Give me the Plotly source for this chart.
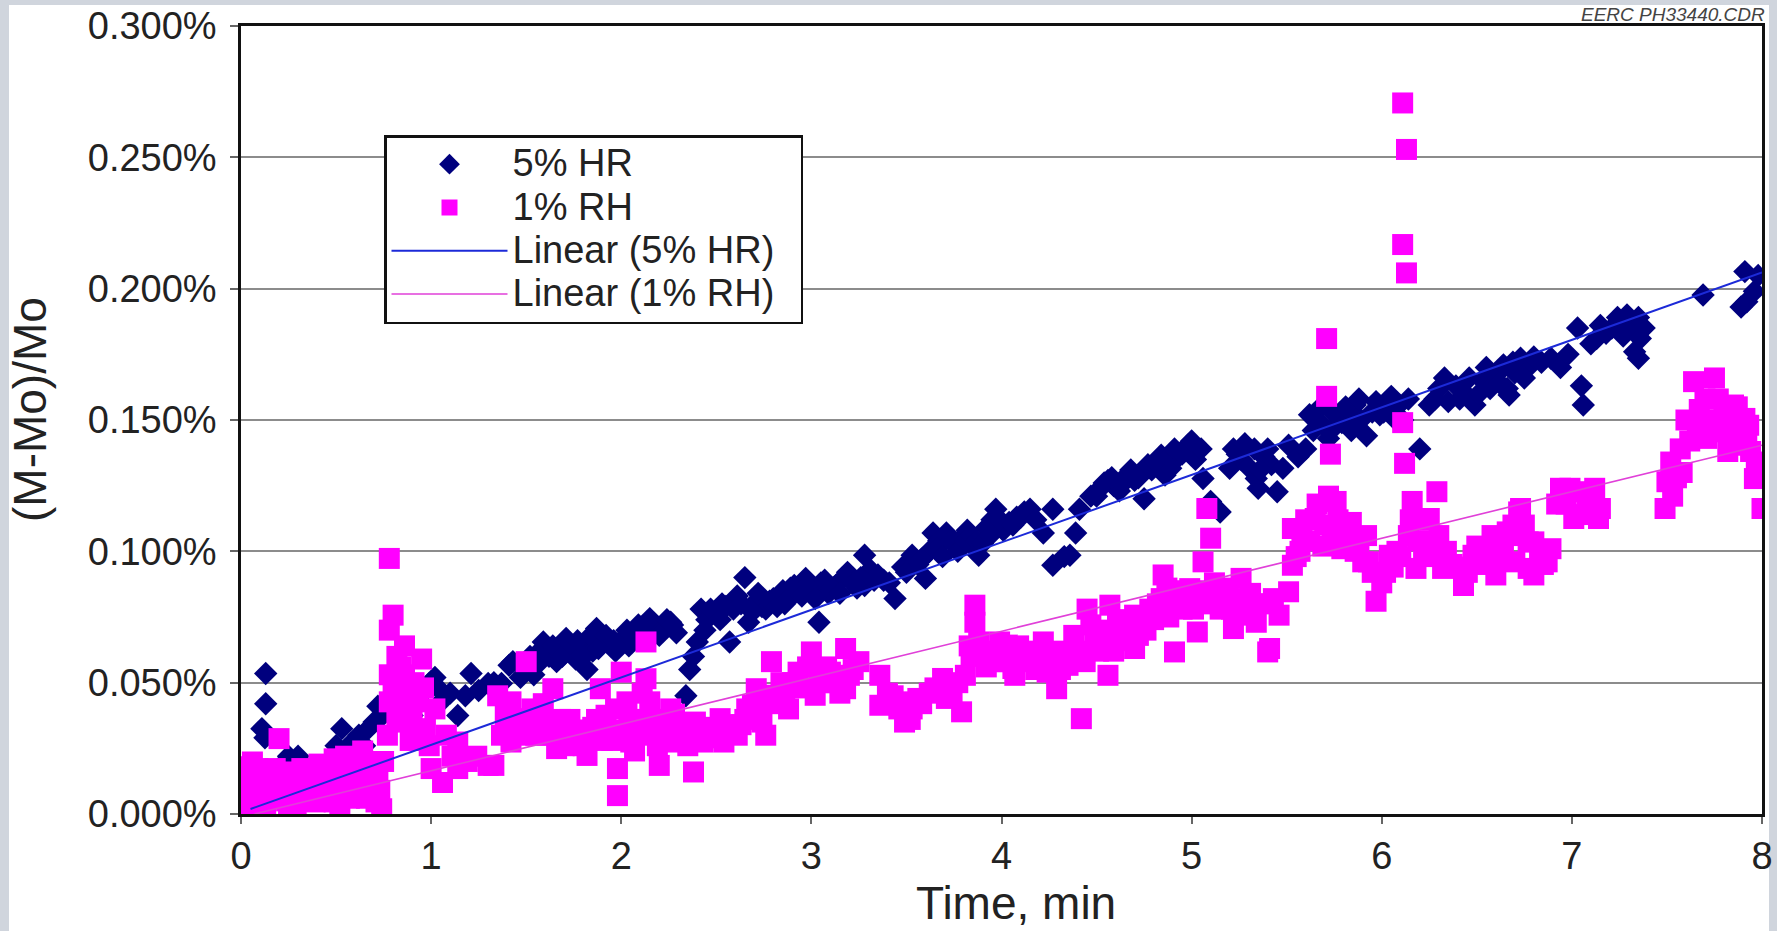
import plotly.graph_objects as go

# ---------------- data ----------------
# 5% HR  (diamonds) – main reading
hr_t = [0.00, 0.02, 0.04, 0.07, 0.09, 0.11, 0.126, 0.13, 0.13, 0.15, 0.18, 0.22, 0.25, 0.30, 0.34, 0.38,
        0.42, 0.46, 0.50, 0.53, 0.56, 0.58, 0.62, 0.65, 0.67, 0.70, 0.72, 0.75, 0.78, 0.82, 0.86, 0.90,
        0.94, 0.99, 1.02, 1.04, 1.07, 1.10, 1.14, 1.18, 1.21, 1.25, 1.30, 1.33, 1.37, 1.41, 1.43, 1.47,
        1.50, 1.54, 1.57, 1.59, 1.62, 1.66, 1.68, 1.71, 1.74, 1.76, 1.79, 1.82, 1.82, 1.85, 1.87, 1.90,
        1.94, 1.97, 2.01, 2.04, 2.07, 2.10, 2.15, 2.18, 2.22, 2.26, 2.29, 2.34, 2.36, 2.38, 2.40, 2.42,
        2.45, 2.50, 2.53, 2.57, 2.59, 2.61, 2.65, 2.67, 2.71, 2.74, 2.76, 2.80, 2.83, 2.86, 2.89, 2.92,
        2.97, 3.00, 3.04, 3.05, 3.09, 3.13, 3.17, 3.20, 3.24, 3.28, 3.28, 3.31, 3.35, 3.38, 3.41, 3.44,
        3.48, 3.53, 3.56, 3.60, 3.62, 3.64, 3.67, 3.71, 3.75, 3.79, 3.82, 3.85, 3.88, 3.92, 3.95, 3.97,
        4.01, 4.04, 4.08, 4.12, 4.15, 4.22, 4.27, 4.27, 4.33, 4.36, 4.39, 4.41, 4.47, 4.52, 4.56, 4.59,
        4.62, 4.66, 4.70, 4.75, 4.79, 4.84, 4.86, 4.89, 4.93, 4.98, 5.02, 5.05, 5.06, 5.10, 5.15, 5.20,
        5.22, 5.26, 5.30, 5.33, 5.34, 5.35, 5.38, 5.42, 5.45, 5.48, 5.51, 5.56, 5.60, 5.62, 5.66, 5.69,
        5.72, 5.76, 5.79, 5.83, 5.86, 5.89, 5.92, 5.95, 5.99, 6.03, 6.06, 6.09, 6.14, 6.20, 6.25, 6.30,
        6.35, 6.39, 6.44, 6.49, 6.53, 6.57, 6.60, 6.64, 6.66, 6.67, 6.70, 6.73, 6.77, 6.84, 6.89, 6.94,
        6.98, 7.03, 7.05, 7.06, 7.10, 7.13, 7.18, 7.24, 7.27, 7.31, 7.35, 7.36, 7.35, 7.69, 7.89, 7.91,
        7.92, 7.96, 7.98]
hr_v = [0.003, 0.006, 0.001, 0.000, 0.004, 0.0325, 0.029, 0.042, 0.0535, 0.012, 0.016, 0.019, 0.022, 0.022, 0.018, 0.017,
        0.014, 0.020, 0.026, 0.0325, 0.024, 0.027, 0.030, 0.026, 0.0325, 0.035, 0.041, 0.038, 0.044, 0.042, 0.040, 0.0375,
        0.045, 0.0497, 0.052, 0.0477, 0.044, 0.046, 0.0375, 0.045, 0.0535, 0.047, 0.0497, 0.050, 0.0497, 0.0566, 0.058, 0.052,
        0.055, 0.053, 0.062, 0.0655, 0.060, 0.058, 0.063, 0.0668, 0.062, 0.059, 0.064, 0.0655, 0.055, 0.062, 0.0706, 0.066,
        0.0655, 0.062, 0.0668, 0.064, 0.070, 0.068, 0.0744, 0.072, 0.0706, 0.073, 0.069, 0.045, 0.055, 0.060, 0.0655, 0.078,
        0.074, 0.077, 0.080, 0.0655, 0.078, 0.083, 0.090, 0.073, 0.081, 0.079, 0.078, 0.082, 0.083, 0.080, 0.086, 0.0846,
        0.0897, 0.085, 0.073, 0.088, 0.084, 0.087, 0.090, 0.0897, 0.086, 0.0985, 0.087, 0.093, 0.091, 0.089, 0.088, 0.082,
        0.094, 0.0985, 0.095, 0.0897, 0.100, 0.107, 0.104, 0.107, 0.103, 0.105, 0.108, 0.102, 0.0985, 0.109, 0.112, 0.116,
        0.108, 0.111, 0.113, 0.115, 0.116, 0.107, 0.116, 0.0947, 0.098, 0.0985, 0.107, 0.116, 0.121, 0.124, 0.127, 0.125,
        0.123, 0.129, 0.127, 0.120, 0.131, 0.1366, 0.129, 0.1316, 0.136, 0.1404, 0.135, 0.139, 0.1277, 0.119, 0.115, 0.1316,
        0.139, 0.135, 0.132, 0.139, 0.1277, 0.124, 0.136, 0.133, 0.1227, 0.1316, 0.1404, 0.136, 0.139, 0.152, 0.150, 0.148,
        0.143, 0.148, 0.149, 0.152, 0.1557, 0.150, 0.144, 0.153, 0.152, 0.157, 0.151, 0.1557, 0.158, 0.139, 0.1557, 0.162,
        0.157, 0.163, 0.160, 0.1557, 0.165, 0.162, 0.167, 0.171, 0.162, 0.1595, 0.168, 0.1735, 0.170, 0.172, 0.1735, 0.170,
        0.175, 0.185, 0.163, 0.1557, 0.179, 0.181, 0.183, 0.189, 0.182, 0.186, 0.189, 0.181, 0.1735, 0.1976, 0.193, 0.2065,
        0.195, 0.199, 0.205]

# 5% HR – further points read inside the dense bands
hr_band_t = [0.05, 0.10, 1.52, 1.56, 1.60, 1.64, 1.69, 1.73, 1.77, 1.80, 1.84, 1.88, 1.92, 1.96, 1.99, 2.03,
             2.06, 2.09, 2.12, 2.20, 2.24, 2.27, 2.44, 2.47, 2.52, 2.55, 2.63, 2.69, 2.72, 2.78, 2.82, 2.85,
             2.88, 2.91, 2.95, 2.99, 3.02, 3.07, 3.11, 3.15, 3.19, 3.22, 3.26, 3.33, 3.50, 3.58, 3.66, 3.69,
             3.73, 3.77, 3.81, 3.84, 3.87, 3.90, 3.94, 3.99, 4.06, 4.10, 4.18, 4.50, 4.54, 4.58, 4.64, 4.68,
             4.72, 4.77, 4.81, 4.88, 4.91, 4.95, 5.00, 5.24, 5.28, 5.36, 5.40, 5.64, 5.68, 5.74, 5.81, 5.84,
             5.88, 5.97, 6.01, 6.05, 6.11, 6.28, 6.33, 6.41, 6.46, 6.51, 6.55, 6.62, 6.69, 6.75, 6.80, 7.15,
             7.21, 7.29, 7.33, 7.38]
hr_band_v = [0.008, 0.012, 0.060, 0.057, 0.062, 0.064, 0.060, 0.065, 0.066, 0.060, 0.068, 0.063, 0.068, 0.066, 0.064, 0.070,
             0.066, 0.072, 0.070, 0.068, 0.074, 0.072, 0.070, 0.078, 0.074, 0.079, 0.080, 0.077, 0.084, 0.081, 0.079, 0.085,
             0.082, 0.087, 0.083, 0.088, 0.082, 0.089, 0.086, 0.084, 0.092, 0.088, 0.090, 0.089, 0.092, 0.097, 0.101, 0.098,
             0.104, 0.100, 0.104, 0.106, 0.104, 0.103, 0.106, 0.112, 0.110, 0.113, 0.112, 0.121, 0.126, 0.128, 0.126, 0.131,
             0.128, 0.133, 0.134, 0.136, 0.139, 0.137, 0.142, 0.137, 0.141, 0.131, 0.139, 0.146, 0.155, 0.153, 0.155, 0.146,
             0.158, 0.157, 0.153, 0.159, 0.150, 0.158, 0.166, 0.158, 0.166, 0.160, 0.170, 0.164, 0.172, 0.166, 0.174, 0.186,
             0.185, 0.190, 0.176, 0.185]

# 1% RH  (squares) – main reading
rh_t = [0.00, 0.00, 0.02, 0.02, 0.04, 0.06, 0.08, 0.09, 0.11, 0.14, 0.16, 0.18, 0.20, 0.22, 0.25, 0.27,
        0.30, 0.32, 0.35, 0.37, 0.39, 0.42, 0.44, 0.44, 0.47, 0.49, 0.49, 0.53, 0.55, 0.58, 0.60, 0.62,
        0.64, 0.67, 0.69, 0.71, 0.72, 0.75, 0.77, 0.78, 0.78, 0.78, 0.78, 0.80, 0.82, 0.84, 0.86, 0.86,
        0.86, 0.89, 0.91, 0.93, 0.95, 0.97, 1.00, 1.02, 1.06, 1.08, 1.11, 1.14, 1.14, 1.19, 1.24, 1.30,
        1.33, 1.35, 1.37, 1.39, 1.42, 1.42, 1.47, 1.50, 1.53, 1.57, 1.61, 1.64, 1.66, 1.68, 1.71, 1.75,
        1.78, 1.82, 1.85, 1.89, 1.92, 1.95, 1.98, 1.98, 2.00, 2.03, 2.05, 2.08, 2.13, 2.13, 2.15, 2.17,
        2.20, 2.23, 2.26, 2.29, 2.33, 2.36, 2.38, 2.41, 2.43, 2.47, 2.52, 2.54, 2.58, 2.61, 2.65, 2.68,
        2.69, 2.71, 2.74, 2.76, 2.79, 2.81, 2.84, 2.88, 2.93, 2.96, 3.00, 3.02, 3.04, 3.08, 3.13, 3.18,
        3.18, 3.20, 3.25, 3.36, 3.36, 3.43, 3.48, 3.49, 3.53, 3.56, 3.62, 3.69, 3.74, 3.79, 3.81, 3.84,
        3.86, 3.86, 3.88, 3.92, 3.95, 3.99, 4.03, 4.06, 4.07, 4.11, 4.15, 4.18, 4.22, 4.26, 4.29, 4.32,
        4.35, 4.38, 4.42, 4.45, 4.49, 4.53, 4.56, 4.57, 4.61, 4.65, 4.70, 4.70, 4.74, 4.78, 4.82, 4.85,
        4.88, 4.91, 4.91, 4.95, 4.99, 5.03, 5.06, 5.08, 5.10, 5.12, 5.15, 5.19, 5.22, 5.26, 5.29, 5.33,
        5.34, 5.40, 5.41, 5.43, 5.46, 5.51, 5.53, 5.53, 5.57, 5.60, 5.65, 5.69, 5.71, 5.71, 5.73, 5.72,
        5.76, 5.79, 5.84, 5.88, 5.92, 5.93, 5.97, 6.00, 6.04, 6.08, 6.11, 6.13, 6.11, 6.13, 6.11, 6.12,
        6.14, 6.16, 6.18, 6.22, 6.25, 6.29, 6.30, 6.32, 6.37, 6.43, 6.48, 6.52, 6.56, 6.60, 6.63, 6.66,
        6.67, 6.70, 6.72, 6.73, 6.77, 6.77, 6.80, 6.80, 6.85, 6.89, 6.94, 6.97, 7.01, 7.03, 7.08, 7.12,
        7.14, 7.15, 7.49, 7.50, 7.52, 7.55, 7.57, 7.60, 7.64, 7.67, 7.71, 7.75, 7.78, 7.80, 7.82, 7.85,
        7.88, 7.91, 7.92, 7.94, 7.96, 8.00]
rh_v = [0.0046, 0.010, 0.0147, 0.0008, 0.007, 0.0198, 0.012, 0.0173, 0.004, 0.0084, 0.013, 0.0173, 0.0287, 0.010, 0.0008, 0.0084,
        0.014, 0.0173, 0.006, 0.011, 0.0046, 0.010, 0.0147, 0.0058, 0.018, 0.021, 0.0046, 0.0097, 0.022, 0.0173, 0.012, 0.0084,
        0.024, 0.0198, 0.010, 0.0046, 0.0147, 0.020, 0.030, 0.0427, 0.053, 0.070, 0.0973, 0.0757, 0.035, 0.047, 0.064, 0.053,
        0.0376, 0.028, 0.050, 0.0427, 0.059, 0.0325, 0.0173, 0.040, 0.012, 0.030, 0.022, 0.0274, 0.0173, 0.020, 0.022, 0.0185,
        0.0185, 0.045, 0.030, 0.0376, 0.0427, 0.0274, 0.0363, 0.058, 0.040, 0.0376, 0.030, 0.0477, 0.0249, 0.036, 0.0338, 0.030,
        0.0274, 0.0223, 0.033, 0.0477, 0.0376, 0.028, 0.0173, 0.007, 0.054, 0.0427, 0.0274, 0.036, 0.0655, 0.0515, 0.0427, 0.031,
        0.0185, 0.036, 0.040, 0.0274, 0.034, 0.0325, 0.016, 0.030, 0.0274, 0.033, 0.0363, 0.0274, 0.034, 0.030, 0.036, 0.0376,
        0.0414, 0.0477, 0.035, 0.030, 0.058, 0.0452, 0.050, 0.040, 0.054, 0.048, 0.0617, 0.0452, 0.0528, 0.056, 0.050, 0.063,
        0.0477, 0.0528, 0.058, 0.0528, 0.0414, 0.045, 0.0427, 0.035, 0.040, 0.044, 0.046, 0.0516, 0.0465, 0.0389, 0.0528, 0.060,
        0.0795, 0.073, 0.0655, 0.056, 0.0604, 0.0655, 0.0643, 0.0554, 0.0528, 0.060, 0.0617, 0.055, 0.0655, 0.058, 0.0477, 0.062,
        0.0566, 0.068, 0.0363, 0.078, 0.0655, 0.070, 0.0528, 0.0795, 0.073, 0.068, 0.0757, 0.063, 0.072, 0.078, 0.080, 0.091,
        0.075, 0.082, 0.0617, 0.078, 0.0858, 0.0693, 0.096, 0.1163, 0.105, 0.088, 0.078, 0.083, 0.0706, 0.0897, 0.0757, 0.080,
        0.073, 0.0617, 0.063, 0.082, 0.0757, 0.0846, 0.0947, 0.1087, 0.100, 0.112, 0.1125, 0.102, 0.181, 0.159, 0.137, 0.121,
        0.119, 0.101, 0.111, 0.104, 0.106, 0.096, 0.081, 0.088, 0.0985, 0.100, 0.2707, 0.253, 0.2168, 0.206, 0.149, 0.1335,
        0.106, 0.119, 0.0935, 0.100, 0.1125, 0.1227, 0.106, 0.0935, 0.095, 0.087, 0.0985, 0.095, 0.101, 0.091, 0.098, 0.1074,
        0.106, 0.096, 0.115, 0.1163, 0.1036, 0.0935, 0.091, 0.1036, 0.095, 0.101, 0.124, 0.118, 0.1125, 0.1227, 0.120, 0.124,
        0.1125, 0.1163, 0.1163, 0.1265, 0.134, 0.128, 0.139, 0.150, 0.1646, 0.154, 0.143, 0.166, 0.1455, 0.155, 0.138, 0.1557,
        0.148, 0.1506, 0.1404, 0.138, 0.1277, 0.1163]

# 1% RH – further points read inside the dense blobs
rh_band_t = [0.01, 0.03, 0.05, 0.07, 0.10, 0.12, 0.13, 0.17, 0.19, 0.23, 0.24, 0.28, 0.29, 0.33, 0.36, 0.40,
             0.41, 0.46, 0.48, 0.51, 0.52, 0.56, 0.57, 0.61, 0.63, 0.66, 0.68, 0.70, 0.73, 0.74, 0.80, 0.82,
             0.84, 0.88, 0.90, 0.92, 0.96, 0.99, 1.44, 1.49, 1.52, 1.55, 1.59, 1.63, 1.67, 1.70, 1.73, 1.77,
             1.80, 1.83, 1.87, 1.90, 1.94, 1.97, 2.01, 2.04, 2.07, 2.10, 2.11, 2.16, 2.19, 2.22, 2.25, 2.28,
             2.31, 2.35, 2.39, 2.45, 2.50, 2.56, 2.63, 2.66, 2.73, 2.78, 2.83, 2.86, 2.90, 2.98, 3.06, 3.10,
             3.15, 3.22, 3.40, 3.46, 3.52, 3.58, 3.65, 3.71, 3.77, 3.83, 3.90, 3.97, 4.01, 4.09, 4.13, 4.20,
             4.24, 4.28, 4.31, 4.34, 4.40, 4.44, 4.47, 4.51, 4.55, 4.59, 4.63, 4.67, 4.72, 4.76, 4.80, 4.84,
             4.87, 4.93, 4.97, 5.01, 5.04, 5.07, 5.13, 5.17, 5.21, 5.24, 5.27, 5.31, 5.36, 5.55, 5.58, 5.62,
             5.66, 5.70, 5.74, 5.77, 5.81, 5.86, 5.90, 5.95, 6.02, 6.06, 6.10, 6.15, 6.19, 6.21, 6.24, 6.27,
             6.34, 6.40, 6.45, 6.50, 6.54, 6.58, 6.62, 6.64, 6.69, 6.75, 6.83, 6.87, 6.92, 6.99, 7.05, 7.10,
             7.53, 7.58, 7.62, 7.66, 7.70, 7.73, 7.77, 7.81, 7.84, 7.87, 7.90, 7.93, 7.97]
rh_band_v = [0.018, 0.004, 0.012, 0.002, 0.009, 0.016, 0.001, 0.006, 0.011, 0.016, 0.005, 0.013, 0.002, 0.009, 0.016, 0.012,
             0.019, 0.008, 0.012, 0.016, 0.002, 0.010, 0.006, 0.018, 0.014, 0.006, 0.015, 0.020, 0.009, 0.002, 0.050, 0.060,
             0.056, 0.044, 0.038, 0.030, 0.048, 0.026, 0.034, 0.030, 0.036, 0.030, 0.042, 0.034, 0.030, 0.026, 0.036, 0.032,
             0.026, 0.030, 0.036, 0.028, 0.032, 0.040, 0.030, 0.036, 0.024, 0.030, 0.046, 0.036, 0.026, 0.030, 0.034, 0.038,
             0.030, 0.026, 0.035, 0.030, 0.029, 0.032, 0.034, 0.040, 0.040, 0.045, 0.042, 0.047, 0.050, 0.056, 0.050, 0.054,
             0.046, 0.055, 0.046, 0.040, 0.036, 0.042, 0.048, 0.044, 0.050, 0.064, 0.062, 0.058, 0.058, 0.064, 0.058, 0.062,
             0.054, 0.060, 0.055, 0.060, 0.062, 0.058, 0.072, 0.062, 0.068, 0.062, 0.066, 0.074, 0.068, 0.070, 0.074, 0.082,
             0.086, 0.085, 0.080, 0.078, 0.085, 0.080, 0.082, 0.086, 0.078, 0.082, 0.080, 0.084, 0.080, 0.098, 0.106, 0.104,
             0.118, 0.110, 0.106, 0.112, 0.104, 0.100, 0.096, 0.092, 0.092, 0.094, 0.098, 0.112, 0.104, 0.112, 0.104, 0.098,
             0.100, 0.094, 0.092, 0.102, 0.098, 0.106, 0.104, 0.100, 0.110, 0.110, 0.100, 0.096, 0.118, 0.124, 0.114, 0.118,
             0.121, 0.130, 0.142, 0.148, 0.158, 0.150, 0.158, 0.148, 0.145, 0.155, 0.142, 0.148, 0.134]

# linear trend lines (end points)
hr_fit_t = [0.05, 8.0]
hr_fit_v = [0.0019, 0.2062]
rh_fit_t = [0.07, 8.0]
rh_fit_v = [0.0000, 0.1404]

y_ticks = [0.0, 0.05, 0.10, 0.15, 0.20, 0.25, 0.30]
y_tick_text = ["0.000%", "0.050%", "0.100%", "0.150%", "0.200%", "0.250%", "0.300%"]
x_ticks = [0, 1, 2, 3, 4, 5, 6, 7, 8]

# ---------------- figure ----------------
W, H = 1777, 931
ML, MR, MT, MB = 241, 15, 26, 117
PW, PH = W - ML - MR, H - MT - MB
FONT = "Liberation Sans, Arial, sans-serif"


def px_x(p):
    return (p - ML) / PW


def px_y(p):
    return (H - MB - p) / PH


def leg(name):
    return '<span style="font-size:38px">' + name + '&nbsp;&nbsp;</span>'


fig = go.Figure()
fig.add_trace(go.Scatter(x=hr_t + hr_band_t, y=hr_v + hr_band_v, mode="markers", name=leg("5% HR"),
                         marker=dict(symbol="diamond", size=18, color="#00007e", line=dict(width=0))))
fig.add_trace(go.Scatter(x=rh_t + rh_band_t, y=rh_v + rh_band_v, mode="markers", name=leg("1% RH"),
                         marker=dict(symbol="square", size=21, color="#ff00ff", line=dict(width=0))))
fig.add_trace(go.Scatter(x=hr_fit_t, y=hr_fit_v, mode="lines", name=leg("Linear (5% HR)"),
                         line=dict(color="#1c2ad8", width=2)))
fig.add_trace(go.Scatter(x=rh_fit_t, y=rh_fit_v, mode="lines", name=leg("Linear (1% RH)"),
                         line=dict(color="#e040d8", width=1.6)))

axis_common = dict(showline=True, linecolor="#111111", linewidth=2.5, mirror=True,
                   ticks="outside", tickcolor="#666666", tickwidth=1.5, zeroline=False,
                   automargin=False,
                   tickfont=dict(family=FONT, size=38, color="#222222"))

fig.update_xaxes(range=[0, 8], tickvals=x_ticks, ticktext=[str(v) for v in x_ticks],
                 ticklen=7, showgrid=False, **axis_common)
fig.update_yaxes(range=[0, 0.3], tickvals=y_ticks, ticktext=y_tick_text, ticklen=8,
                 ticklabelstandoff=6,
                 showgrid=True, gridcolor="#8c8c8c", gridwidth=1.5, **axis_common)

fig.update_layout(
    width=W, height=H,
    margin=dict(l=ML, r=MR, t=MT, b=MB, pad=0, autoexpand=False),
    paper_bgcolor="#d0d5dd",
    plot_bgcolor="white",
    font=dict(family=FONT, color="#222222"),
    showlegend=True,
    legend=dict(x=px_x(384), y=px_y(135), xanchor="left", yanchor="top",
                bgcolor="white", bordercolor="#111111", borderwidth=2.5,
                font=dict(family=FONT, size=31, color="#222222"),
                itemwidth=116, tracegroupgap=0),
    shapes=[dict(type="rect", xref="paper", yref="paper", layer="below",
                 x0=px_x(9), x1=px_x(1769), y0=px_y(931), y1=px_y(5),
                 fillcolor="white", line=dict(width=0))],
    annotations=[
        dict(text="Time, min", xref="paper", yref="paper", x=px_x(1016), y=px_y(931),
             xanchor="center", yanchor="bottom", showarrow=False,
             font=dict(family=FONT, size=46, color="#222222")),
        dict(text="(M-Mo)/Mo", xref="paper", yref="paper", x=px_x(30), y=px_y(410),
             xanchor="center", yanchor="middle", showarrow=False, textangle=-90,
             font=dict(family=FONT, size=46, color="#222222")),
        dict(text="<i>EERC PH33440.CDR</i>", xref="paper", yref="paper", x=px_x(1767), y=px_y(14),
             xanchor="right", yanchor="middle", showarrow=False,
             font=dict(family=FONT, size=19, color="#444444")),
    ],
)

fig.write_html("out.html")
